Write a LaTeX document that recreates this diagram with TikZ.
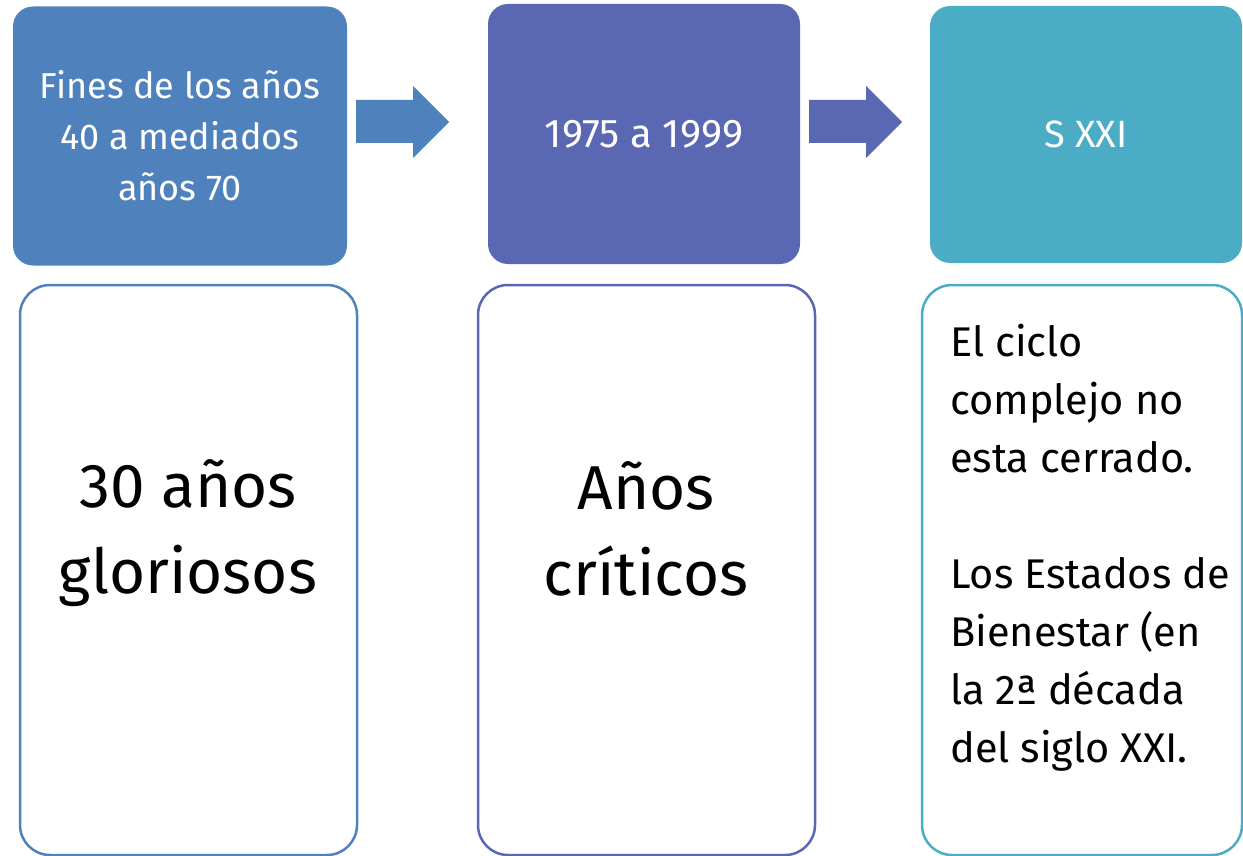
\documentclass[tikz,border=0pt]{standalone}
\usepackage{fontspec}
\setmainfont{Fira Sans}
\definecolor{cA}{HTML}{4F81BD}
\definecolor{cB}{HTML}{5A67B3}
\definecolor{cC}{HTML}{4BACC6}
\begin{document}
\begin{tikzpicture}[x=1pt,y=-1pt,
  topbox/.style={rounded corners=20pt, inner sep=0pt, text=white, align=center,
     font=\fontsize{36}{51}\selectfont},
  botbox/.style={draw, line width=2.5pt, rounded corners=30pt, fill=white, inner sep=0pt},
  bigtext/.style={align=center, font=\fontsize{62}{86}\selectfont, inner sep=0pt},
  sidetext/.style={align=left, font=\fontsize{41.5}{58}\selectfont, inner sep=0pt, anchor=north west}
]
\useasboundingbox (0,0) rectangle (1243,856);
% top boxes
\node[topbox, fill=cA, minimum width=334pt, minimum height=259pt] (t1) at (180,136) {Fines de los años\\40 a mediados\\años 70};
\node[topbox, fill=cB, minimum width=312pt, minimum height=260pt, font=\fontsize{40}{51}\selectfont] (t2) at (644,134) {1975 a 1999};
\node[topbox, fill=cC, minimum width=312pt, minimum height=257pt, font=\fontsize{38}{51}\selectfont] (t3) at (1086,134.5) {S XXI};
% arrows
\fill[cA] (356,100) -- (413,100) -- (413,86) -- (449,122) -- (413,158) -- (413,143) -- (356,143) -- cycle;
\fill[cB] (809,100) -- (866,100) -- (866,86) -- (902,122) -- (866,158) -- (866,143) -- (809,143) -- cycle;
% bottom boxes
\node[botbox, draw=cA, minimum width=337pt, minimum height=570pt] (b1) at (188.5,570) {};
\node[botbox, draw=cB, minimum width=337pt, minimum height=570pt] (b2) at (646.5,570) {};
\node[botbox, draw=cC, minimum width=320pt, minimum height=570pt] (b3) at (1082,570) {};
\node[bigtext] (l1) at (188,533) {30 años\\gloriosos};
\node[bigtext] (l2) at (646,529) {Años\\críticos};
\node[sidetext] (l3) at (950,324) {El ciclo\\complejo no\\esta cerrado.\\[58pt]Los Estados de\\Bienestar (en\\la 2ª década\\del siglo XXI.};
\end{tikzpicture}
\end{document}
